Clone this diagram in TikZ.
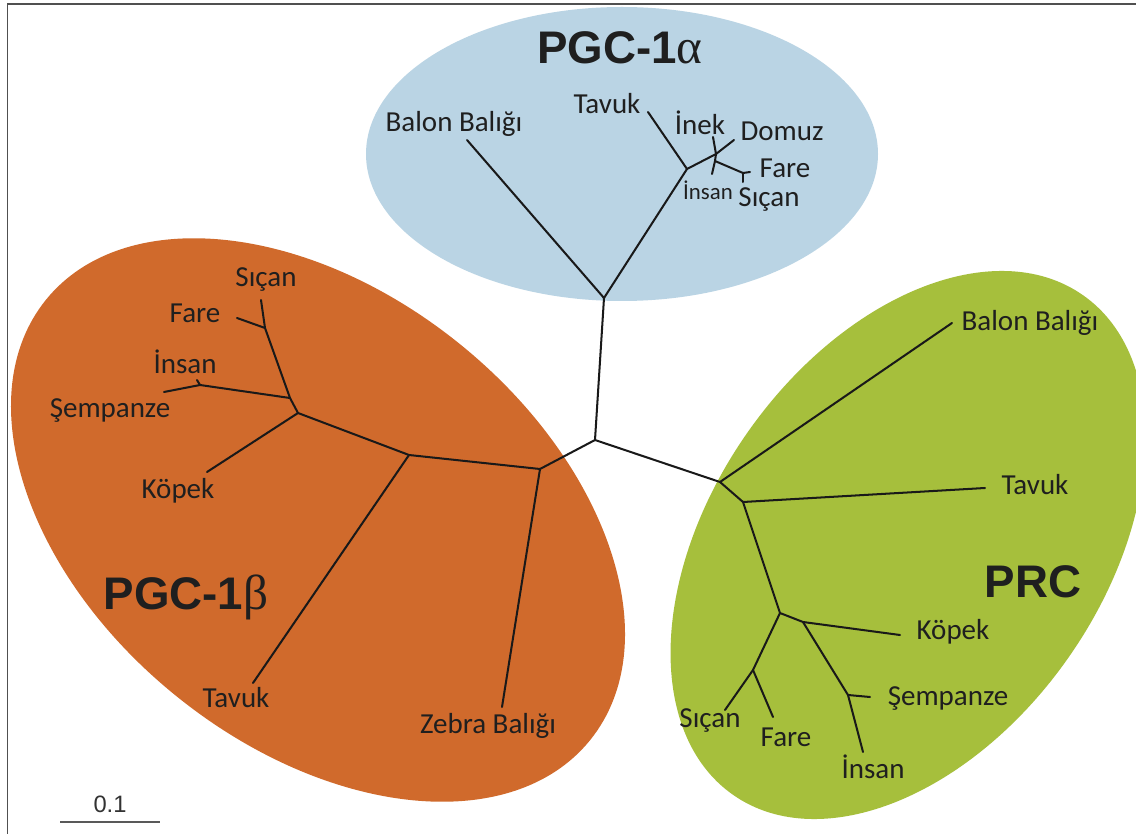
\documentclass[tikz,border=0pt]{standalone}
\usepackage{fontspec}
\setmainfont{Carlito}
\newfontfamily\titlefont{Liberation Sans}
\newfontfamily\greekfont{Liberation Serif}
\definecolor{bluefill}{RGB}{186,212,228}
\definecolor{orangefill}{RGB}{208,106,44}
\definecolor{greenfill}{RGB}{166,191,60}
\definecolor{framegray}{RGB}{80,80,80}
\begin{document}
\begin{tikzpicture}[x=0.02cm,y=-0.02cm,
  br/.style={line width=1.15pt, black!90, line cap=round, line join=round},
  lab/.style={font=\fontsize{16.5}{18}\selectfont, inner sep=0pt, text=black!88},
  smalllab/.style={font=\fontsize{13}{14}\selectfont, inner sep=0pt, text=black!88},
  ttl/.style={font=\titlefont\bfseries\fontsize{26}{28}\selectfont, inner sep=0pt, text=black!88}]
\useasboundingbox (0,0) rectangle (1136,834);
\fill[white] (0,0) rectangle (1136,834);
% frame
\draw[line width=1.1pt, framegray] (1136,4) -- (7.5,4) -- (7.5,834);
% groups
\fill[bluefill] (622,154) ellipse [x radius=256, y radius=147];
\fill[orangefill, rotate around={-39:(318,520)}] (318,520) ellipse [x radius=350, y radius=226];
\fill[greenfill, rotate around={55:(908,545)}] (908,545) ellipse [x radius=305, y radius=196];
% titles
\node[ttl] (ta) at (620,48) {PGC-1{\greekfont\mdseries\fontsize{28}{30}\selectfont α}};
\node[ttl] (tb) at (186,597) {PGC-1{\greekfont\mdseries\fontsize{28}{30}\selectfont β}};
\node[ttl] (tc) at (1033,582) {PRC};
% tree coordinates
\coordinate (O) at (595,440);
% blue
\coordinate (R1) at (604,298);
\coordinate (BB1) at (467,140);
\coordinate (A) at (687,169);
\coordinate (TV1) at (648,112);
\coordinate (B1) at (716,154);
\coordinate (DM1) at (734,140);
\coordinate (IN1) at (713,137);
\coordinate (B2) at (715,161);
\coordinate (IS1) at (712,174);
\coordinate (B3) at (743,173);
\coordinate (FR1) at (750,172);
\coordinate (SC1) at (743,182);
% orange
\coordinate (C1) at (540,469);
\coordinate (ZB1) at (502,707);
\coordinate (C2) at (409,455);
\coordinate (TK1) at (253,683);
\coordinate (C3) at (298,413);
\coordinate (KP1) at (207,472);
\coordinate (C4) at (290,398);
\coordinate (D) at (200,385);
\coordinate (IS2) at (197,380);
\coordinate (SP1) at (164,392);
\coordinate (C5) at (265,328);
\coordinate (FR2) at (237,318);
\coordinate (SC2) at (261,300);
% green
\coordinate (G1) at (720,482);
\coordinate (GB1) at (952,323);
\coordinate (G2) at (743,502);
\coordinate (GT1) at (985,488);
\coordinate (G3) at (780,613);
\coordinate (G4) at (803,622);
\coordinate (GK1) at (900,635);
\coordinate (G5) at (848,695);
\coordinate (GS1) at (870,697);
\coordinate (GI1) at (863,752);
\coordinate (G6) at (753,670);
\coordinate (GSC1) at (725,710);
\coordinate (GF1) at (773,717);
% branches
\draw[br] (O) -- (R1);
\draw[br] (R1) -- (BB1);
\draw[br] (R1) -- (A);
\draw[br] (A) -- (TV1);
\draw[br] (A) -- (B1);
\draw[br] (B1) -- (DM1);
\draw[br] (B1) -- (IN1);
\draw[br] (B1) -- (B2);
\draw[br] (B2) -- (IS1);
\draw[br] (B2) -- (B3);
\draw[br] (B3) -- (FR1);
\draw[br] (B3) -- (SC1);
\draw[br] (O) -- (C1);
\draw[br] (C1) -- (ZB1);
\draw[br] (C1) -- (C2);
\draw[br] (C2) -- (TK1);
\draw[br] (C2) -- (C3);
\draw[br] (C3) -- (KP1);
\draw[br] (C3) -- (C4);
\draw[br] (C4) -- (D);
\draw[br] (D) -- (IS2);
\draw[br] (D) -- (SP1);
\draw[br] (C4) -- (C5);
\draw[br] (C5) -- (FR2);
\draw[br] (C5) -- (SC2);
\draw[br] (O) -- (G1);
\draw[br] (G1) -- (GB1);
\draw[br] (G1) -- (G2);
\draw[br] (G2) -- (GT1);
\draw[br] (G2) -- (G3);
\draw[br] (G3) -- (G4);
\draw[br] (G4) -- (GK1);
\draw[br] (G4) -- (G5);
\draw[br] (G5) -- (GS1);
\draw[br] (G5) -- (GI1);
\draw[br] (G3) -- (G6);
\draw[br] (G6) -- (GSC1);
\draw[br] (G6) -- (GF1);
% blue labels
\node[lab] (lbb1) at (454,124) {Balon Balığı};
\node[lab] (ltv1) at (607,104) {Tavuk};
\node[lab] (lin1) at (700,123) {İnek};
\node[lab] (ldm1) at (782,131) {Domuz};
\node[lab] (lfr1) at (785,168) {Fare};
\node[lab] (lsc1) at (769,200) {Sıçan};
\node[smalllab] (lis1) at (708,190) {İnsan};
% orange labels
\node[lab] (lsc2) at (266,280) {Sıçan};
\node[lab] (lfr2) at (195,313) {Fare};
\node[lab] (lis2) at (185,362) {İnsan};
\node[lab] (lsp2) at (110,411) {Şempanze};
\node[lab] (lkp2) at (178,491) {Köpek};
\node[lab] (ltk2) at (236,698) {Tavuk};
\node[lab] (lzb2) at (488,726) {Zebra Balığı};
% green labels
\node[lab] (lgb) at (1030,323) {Balon Balığı};
\node[lab] (lgt) at (1035,485) {Tavuk};
\node[lab] (lgk) at (953,632) {Köpek};
\node[lab] (lgs) at (948,699) {Şempanze};
\node[lab] (lgi) at (873,767) {İnsan};
\node[lab] (lgsc) at (710,721) {Sıçan};
\node[lab] (lgf) at (786,737) {Fare};
% scale bar
\coordinate (s1) at (60,822);
\coordinate (s2) at (160,822);
\draw[line width=0.8pt, black!65] (s1) -- (s2);
\node[font=\titlefont\fontsize{13.5}{15}\selectfont, inner sep=0pt, text=black!80] (sc) at (110,804) {0.1};
\end{tikzpicture}
\end{document}
